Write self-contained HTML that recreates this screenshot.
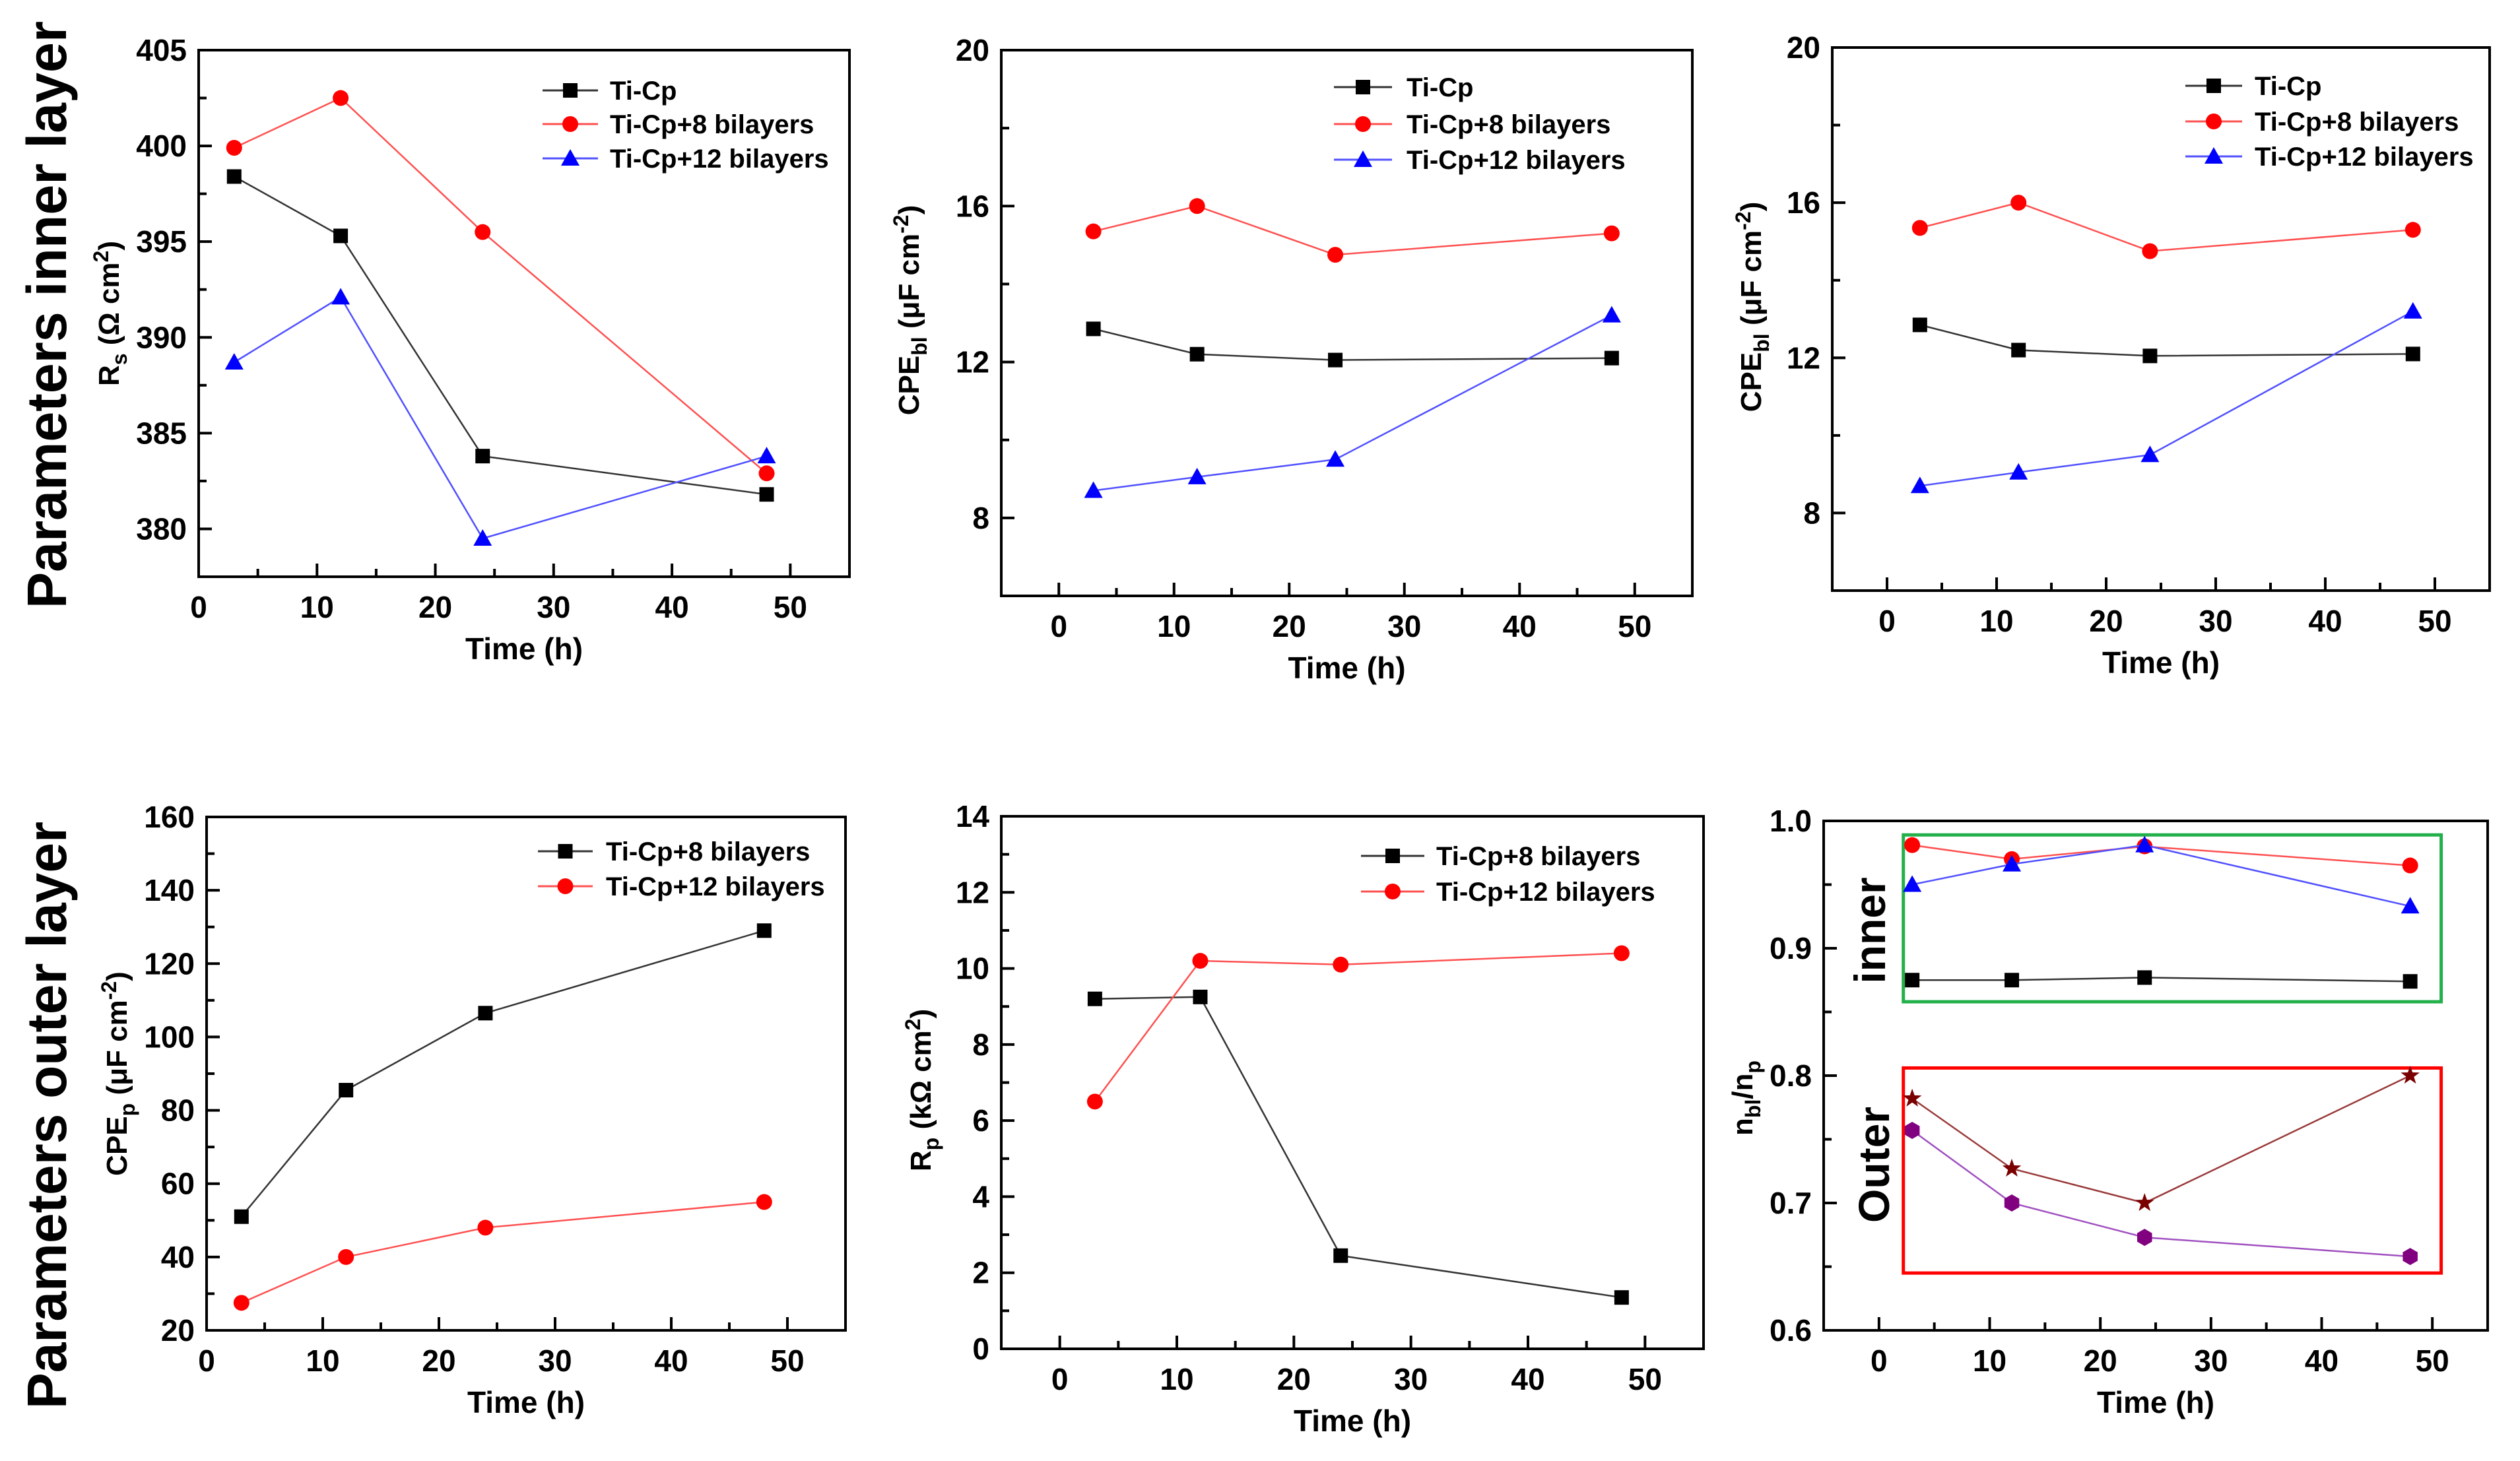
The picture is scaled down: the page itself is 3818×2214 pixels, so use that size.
<!DOCTYPE html>
<html><head><meta charset="utf-8">
<style>
html,body{margin:0;padding:0;background:#fff;}
svg{display:block;font-family:"Liberation Sans",Arial,sans-serif;font-weight:bold;}
</style></head>
<body>
<svg id="fig" xmlns="http://www.w3.org/2000/svg" width="3818" height="2214" viewBox="0 0 3818 2214">
<rect width="3818" height="2214" fill="#fff"/>
<text transform="translate(100,477) rotate(-90)" text-anchor="middle" font-size="84" textLength="890" lengthAdjust="spacingAndGlyphs">Parameters inner layer</text>
<text transform="translate(100,1690) rotate(-90)" text-anchor="middle" font-size="84" textLength="890" lengthAdjust="spacingAndGlyphs">Parameters outer layer</text>
</svg>
<script>
const times = [3, 12, 24, 48];
// Panel 1: Rs
const rsTiCp = [398.4, 395.3, 383.8, 381.8];
const rsTi8 = [399.9, 402.5, 395.5, 382.9];
const rsTi12 = [388.7, 392.1, 379.5, 383.8];
const rsTicks = [380, 385, 390, 395, 400, 405];
// Panel 2: CPEbl
const cpe2TiCp = [12.85, 12.2, 12.05, 12.1];
const cpe2Ti8 = [15.35, 16.0, 14.75, 15.3];
const cpe2Ti12 = [8.7, 9.05, 9.5, 13.2];
// Panel 3: CPEbl (copy)
const cpe3TiCp = [12.85, 12.2, 12.05, 12.1];
const cpe3Ti8 = [15.35, 16.0, 14.75, 15.3];
const cpe3Ti12 = [8.7, 9.05, 9.5, 13.2];
const cpeTicks = [8, 12, 16, 20];
// Panel 4: CPEp
const cpepTi8 = [51, 85.5, 106.5, 129];
const cpepTi12 = [27.5, 40, 48, 55];
const cpepTicks = [20, 40, 60, 80, 100, 120, 140, 160];
// Panel 5: Rp
const rpTi8 = [9.2, 9.25, 2.45, 1.35];
const rpTi12 = [6.5, 10.2, 10.1, 10.4];
const rpTicks = [0, 2, 4, 6, 8, 10, 12, 14];
// Panel 6: n ratios
const nInnerRed = [0.981, 0.970, 0.980, 0.965];
const nInnerBlue = [0.950, 0.966, 0.981, 0.933];
const nInnerBlack = [0.875, 0.875, 0.877, 0.874];
const nOuterStar = [0.782, 0.727, 0.700, 0.800];
const nOuterHex = [0.757, 0.700, 0.673, 0.658];
const nTicks = ["0.6", "0.7", "0.8", "0.9", "1.0"];
const xTicks = [0, 10, 20, 30, 40, 50];

const NS = "http://www.w3.org/2000/svg";
const svg = document.getElementById('fig');
function mk(tag, attrs, parent) {
  const e = document.createElementNS(NS, tag);
  for (const k in attrs) e.setAttribute(k, attrs[k]);
  (parent || svg).appendChild(e);
  return e;
}
function marker(g, type, x, y, color) {
  let e;
  if (type === 'square') e = mk('rect', {x: x-11, y: y-11, width: 22, height: 22, fill: color}, g);
  else if (type === 'circle') e = mk('circle', {cx: x, cy: y, r: 12, fill: color}, g);
  else if (type === 'tri') e = mk('polygon', {points: `${x},${y-14} ${x+14},${y+11} ${x-14},${y+11}`, fill: color}, g);
  else if (type === 'hex') { let p=[]; for(let i=0;i<6;i++){const a=Math.PI/6+i*Math.PI/3;p.push((x+13*Math.cos(a)).toFixed(1)+','+(y+13*Math.sin(a)).toFixed(1));} e = mk('polygon', {points: p.join(' '), fill: color}, g); }
  else if (type === 'star') { let p=[]; for(let i=0;i<10;i++){const a=-Math.PI/2+i*Math.PI/5;const r=i%2?6:15;p.push((x+r*Math.cos(a)).toFixed(1)+','+(y+r*Math.sin(a)).toFixed(1));} e = mk('polygon', {points: p.join(' '), fill: color}, g); }
  
  
}
function panel(o) {
  const g = mk('g', {});
  
  
  const X = v => o.L + (v - o.xmin) / (o.xmax - o.xmin) * (o.R - o.L);
  const Y = v => o.B - (v - o.ymin) / (o.ymax - o.ymin) * (o.B - o.T);
  (o.boxes || []).forEach(b => {
    const r = mk('rect', {x: X(b.x0), y: Y(b.y1), width: X(b.x1)-X(b.x0), height: Y(b.y0)-Y(b.y1), fill: 'none', stroke: b.c, 'stroke-width': 5}, g);
    
    
  });
  const fr = mk('rect', {x: o.L, y: o.T, width: o.R-o.L, height: o.B-o.T, fill: 'none', stroke: '#000', 'stroke-width': 4}, g);
  
  
  xTicks.forEach(t => {
    mk('line', {x1: X(t), x2: X(t), y1: o.B, y2: o.B-20, stroke: '#000', 'stroke-width': 4}, g);
    mk('line', {x1: X(t+5), x2: X(t+5), y1: o.B, y2: o.B-12, stroke: '#000', 'stroke-width': 4}, g);
    const tx = mk('text', {x: X(t), y: o.B+62, 'text-anchor': 'middle', 'font-size': 46}, g);
    tx.textContent = t;
    
    
  });
  o.yTicks.forEach((t, i) => {
    const v = parseFloat(t);
    mk('line', {x1: o.L, x2: o.L+20, y1: Y(v), y2: Y(v), stroke: '#000', 'stroke-width': 4}, g);
    const mv = v + o.minor;
    if (mv < o.ymax) mk('line', {x1: o.L, x2: o.L+12, y1: Y(mv), y2: Y(mv), stroke: '#000', 'stroke-width': 4}, g);
    const ty = mk('text', {x: o.L-18, y: Y(v)+16, 'text-anchor': 'end', 'font-size': 46}, g);
    ty.textContent = t;
    
    
  });
  if (o.minorBelow) { const mv = parseFloat(o.yTicks[0]) - o.minor; if (mv > o.ymin) mk('line', {x1: o.L, x2: o.L+12, y1: Y(mv), y2: Y(mv), stroke: '#000', 'stroke-width': 4}, g); }
  const xt = mk('text', {x: (o.L+o.R)/2, y: o.B+125, 'text-anchor': 'middle', 'font-size': 46}, g);
  xt.textContent = 'Time (h)';
  
  
  const yt = mk('text', {transform: `translate(${o.ytx},${o.yty}) rotate(-90)`, 'text-anchor': 'middle', 'font-size': 44}, g);
  yt.innerHTML = o.ytitle;
  
  
  o.series.forEach((s, si) => {
    const pts = times.map((t, i) => X(t).toFixed(1) + ',' + Y(s.v[i]).toFixed(1)).join(' ');
    const pl = mk('polyline', {points: pts, fill: 'none', stroke: s.lc, 'stroke-width': 2.5}, g);
    
    
    times.forEach((t, i) => marker(g, s.m, X(t), Y(s.v[i]), s.c));
    if (o.leg) {
      const ly = o.leg.rows[si];
      const lg = mk('g', {}, g);
      
      
      mk('line', {x1: o.leg.x0, x2: o.leg.x1, y1: ly, y2: ly, stroke: s.lc, 'stroke-width': 3}, lg);
      marker(lg, s.m, (o.leg.x0+o.leg.x1)/2, ly, s.c);
      const lt = mk('text', {x: o.leg.tx, y: ly+14, 'font-size': 40}, lg);
      lt.textContent = s.label;
    }
  });
  (o.texts || []).forEach(t => {
    const e = mk('text', {transform: `translate(${t.x},${t.y}) rotate(-90)`, 'text-anchor': 'middle', 'font-size': 66}, g);
    e.textContent = t.s;
    
    
  });
}
const blk = {c: '#000', lc: '#333', m: 'square'};
const red = {c: '#ff0000', lc: '#ff5050', m: 'circle'};
const blu = {c: '#0000ff', lc: '#5050ff', m: 'tri'};
const cpeTitle = 'CPE<tspan font-size="32" dy="12">bl</tspan><tspan dy="-12"> (μF cm</tspan><tspan font-size="32" dy="-16">-2</tspan><tspan dy="16">)</tspan>';
panel({name: 'panel-rs', L: 301, R: 1287, T: 76, B: 874, xmin: 0, xmax: 55, ymin: 377.5, ymax: 405,
  yTicks: rsTicks.map(String), minor: 2.5, minorBelow: true, ytx: 180, yty: 475,
  ytitle: 'R<tspan font-size="32" dy="12">s</tspan><tspan dy="-12"> (Ω cm</tspan><tspan font-size="32" dy="-16">2</tspan><tspan dy="16">)</tspan>',
  leg: {x0: 822, x1: 906, tx: 924, rows: [137, 188, 240]},
  series: [Object.assign({v: rsTiCp, label: 'Ti-Cp'}, blk), Object.assign({v: rsTi8, label: 'Ti-Cp+8 bilayers'}, red), Object.assign({v: rsTi12, label: 'Ti-Cp+12 bilayers'}, blu)]});
panel({name: 'panel-cpebl-1', L: 1517, R: 2564, T: 76, B: 903, xmin: -5, xmax: 55, ymin: 6, ymax: 20,
  yTicks: cpeTicks.map(String), minor: 2, minorBelow: false, ytx: 1392, yty: 470, ytitle: cpeTitle,
  leg: {x0: 2021, x1: 2109, tx: 2131, rows: [132, 188, 242]},
  series: [Object.assign({v: cpe2TiCp, label: 'Ti-Cp'}, blk), Object.assign({v: cpe2Ti8, label: 'Ti-Cp+8 bilayers'}, red), Object.assign({v: cpe2Ti12, label: 'Ti-Cp+12 bilayers'}, blu)]});
panel({name: 'panel-cpebl-2', L: 2776, R: 3772, T: 72, B: 895, xmin: -5, xmax: 55, ymin: 6, ymax: 20,
  yTicks: cpeTicks.map(String), minor: 2, minorBelow: false, ytx: 2668, yty: 465, ytitle: cpeTitle,
  leg: {x0: 3311, x1: 3397, tx: 3416, rows: [130, 184, 237]},
  series: [Object.assign({v: cpe3TiCp, label: 'Ti-Cp'}, blk), Object.assign({v: cpe3Ti8, label: 'Ti-Cp+8 bilayers'}, red), Object.assign({v: cpe3Ti12, label: 'Ti-Cp+12 bilayers'}, blu)]});
panel({name: 'panel-cpep', L: 313, R: 1281, T: 1238, B: 2016, xmin: 0, xmax: 55, ymin: 20, ymax: 160,
  yTicks: cpepTicks.map(String), minor: 10, minorBelow: false, ytx: 192, yty: 1627,
  ytitle: 'CPE<tspan font-size="32" dy="12">p</tspan><tspan dy="-12"> (μF cm</tspan><tspan font-size="32" dy="-16">-2</tspan><tspan dy="16">)</tspan>',
  leg: {x0: 815, x1: 898, tx: 918, rows: [1290, 1343]},
  series: [Object.assign({v: cpepTi8, label: 'Ti-Cp+8 bilayers'}, blk), Object.assign({v: cpepTi12, label: 'Ti-Cp+12 bilayers'}, red)]});
panel({name: 'panel-rp', L: 1517, R: 2581, T: 1237, B: 2044, xmin: -5, xmax: 55, ymin: 0, ymax: 14,
  yTicks: rpTicks.map(String), minor: 1, minorBelow: false, ytx: 1410, yty: 1652,
  ytitle: 'R<tspan font-size="32" dy="12">p</tspan><tspan dy="-12"> (kΩ cm</tspan><tspan font-size="32" dy="-16">2</tspan><tspan dy="16">)</tspan>',
  leg: {x0: 2062, x1: 2158, tx: 2176, rows: [1297, 1351]},
  series: [Object.assign({v: rpTi8, label: 'Ti-Cp+8 bilayers'}, blk), Object.assign({v: rpTi12, label: 'Ti-Cp+12 bilayers'}, red)]});
panel({name: 'panel-n-ratio', L: 2763, R: 3769, T: 1244, B: 2016, xmin: -5, xmax: 55, ymin: 0.6, ymax: 1.0,
  yTicks: nTicks, minor: 0.05, minorBelow: false, ytx: 2655, yty: 1664,
  ytitle: 'n<tspan font-size="32" dy="12">bl</tspan><tspan dy="-12">/n</tspan><tspan font-size="32" dy="12">p</tspan>',
  boxes: [{x0: 2.2, x1: 50.8, y0: 0.858, y1: 0.989, c: '#22b04b', name: 'inner-box'}, {x0: 2.2, x1: 50.8, y0: 0.645, y1: 0.806, c: '#ff0000', name: 'outer-box'}],
  texts: [{x: 2856, y: 1410, s: 'inner', name: 'inner-label'}, {x: 2862, y: 1765, s: 'Outer', name: 'outer-label'}],
  series: [Object.assign({v: nInnerRed}, red), Object.assign({v: nInnerBlue}, blu), Object.assign({v: nInnerBlack}, blk),
    {v: nOuterStar, c: '#7a0000', lc: '#9a3a3a', m: 'star'}, {v: nOuterHex, c: '#800080', lc: '#a050c0', m: 'hex'}]});
</script>
</body></html>
